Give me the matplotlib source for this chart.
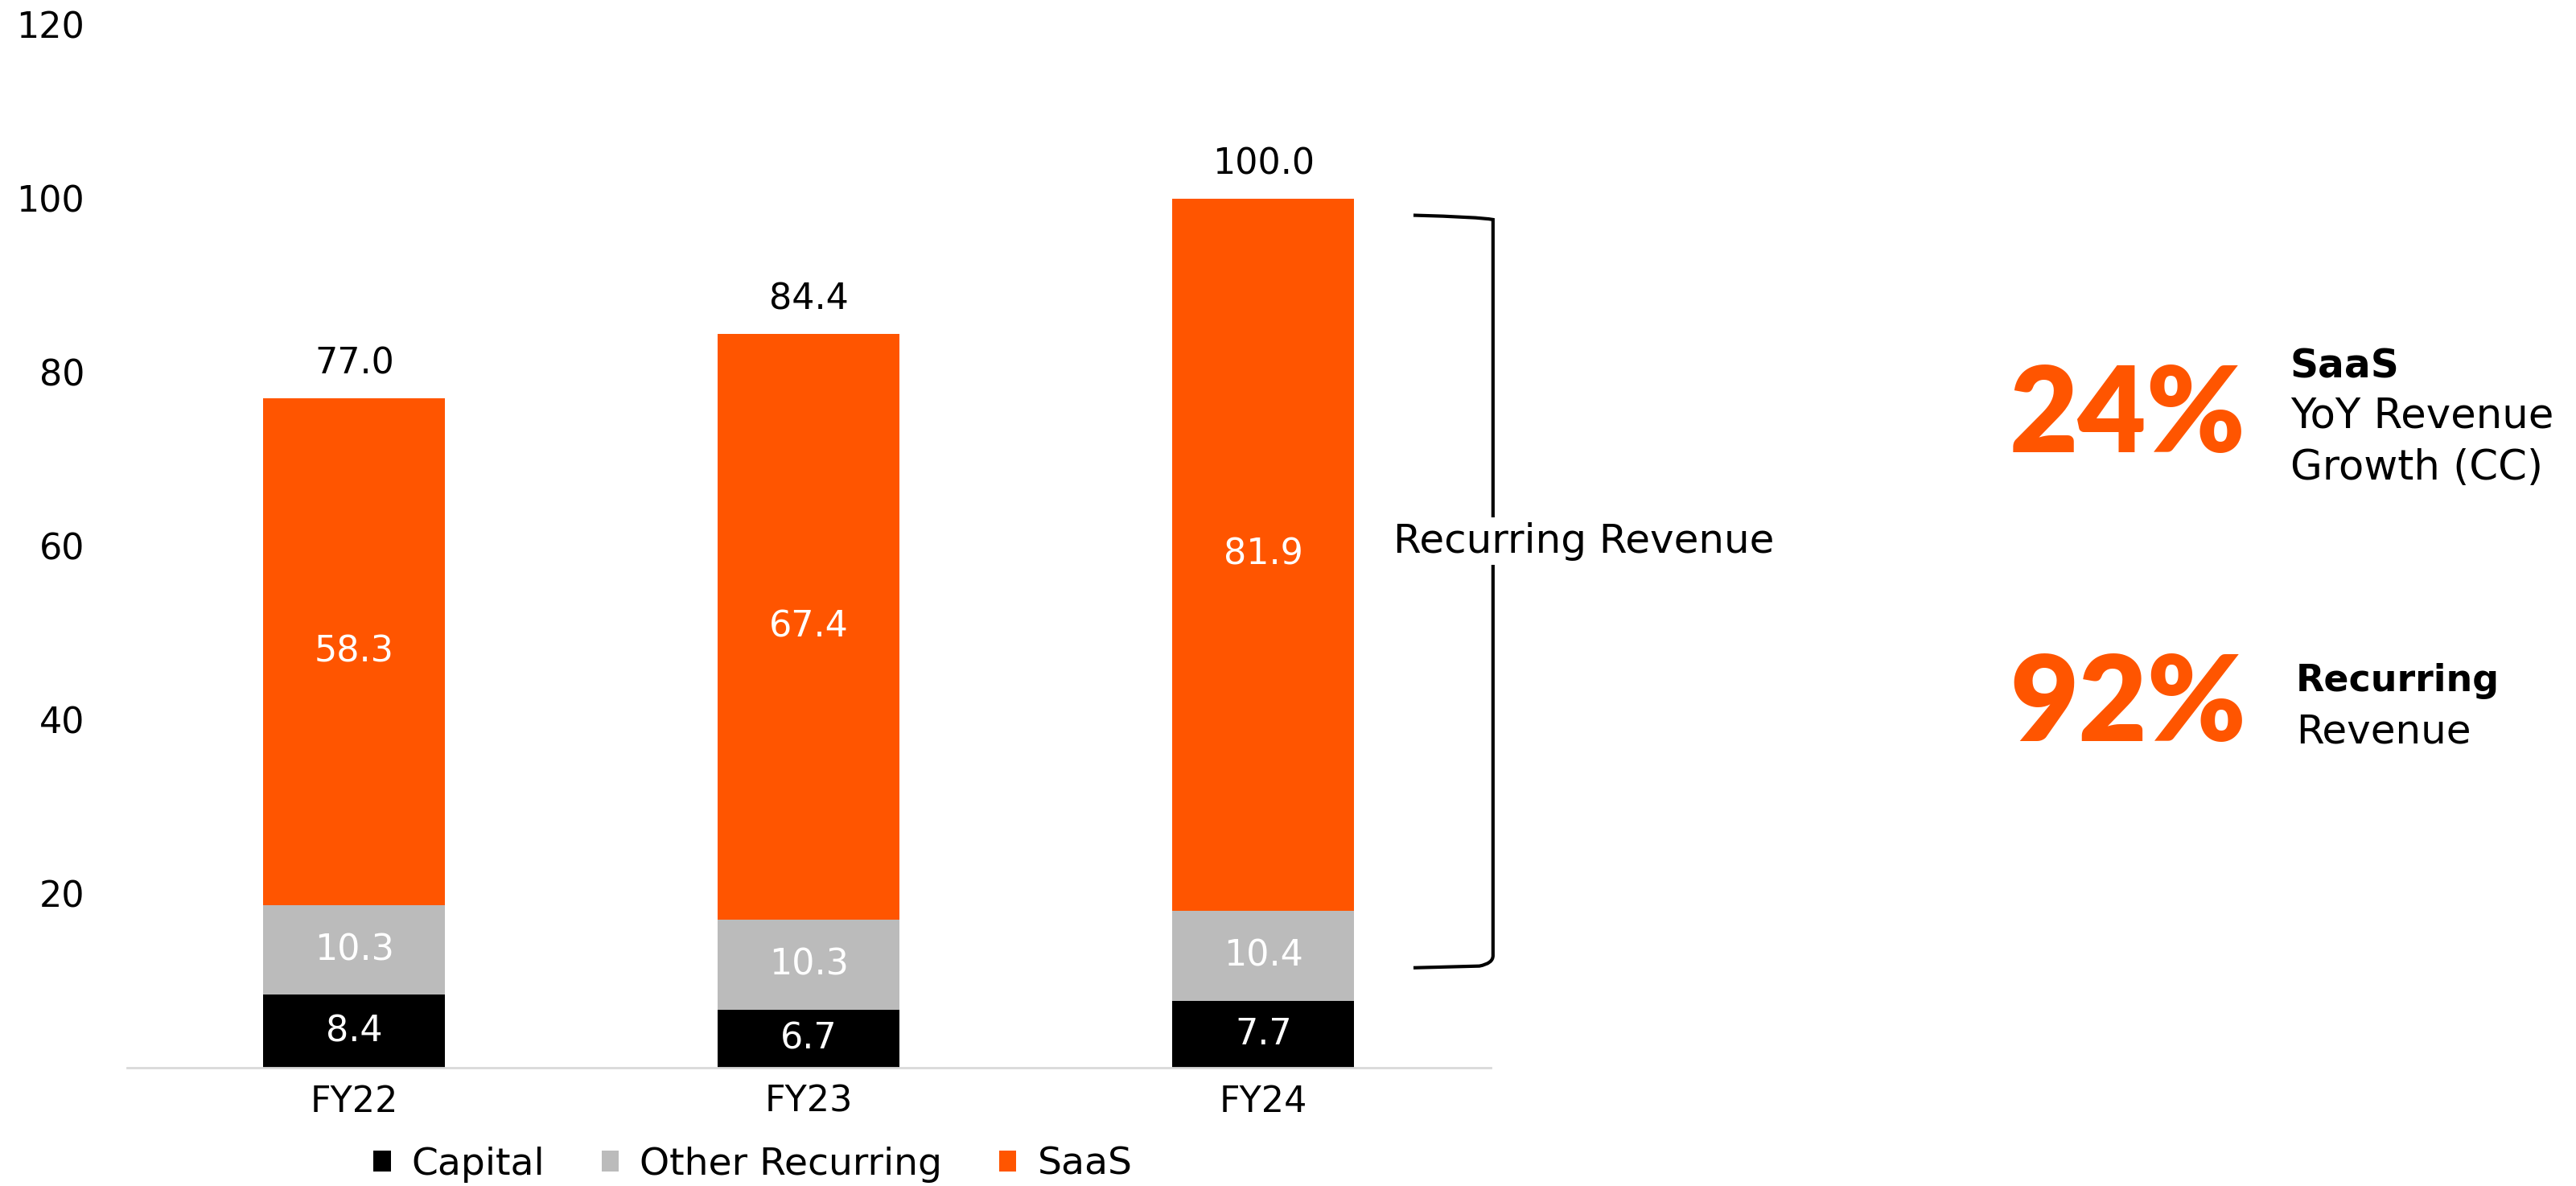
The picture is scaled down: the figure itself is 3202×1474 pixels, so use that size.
import numpy as np
import matplotlib
matplotlib.use("Agg")
import matplotlib.pyplot as plt
from matplotlib.path import Path
from matplotlib.patches import PathPatch

# revenue mix, FY22-FY24
years = ["FY22", "FY23", "FY24"]
capital = [8.4, 6.7, 7.7]
other_recurring = [10.3, 10.3, 10.4]
saas = [58.3, 67.4, 81.9]
totals = ["77.0", "84.4", "100.0"]

series_names = ["Capital", "Other Recurring", "SaaS"]
colors = ["#000000", "#BBBBBB", "#FF5500"]
label_colors = ["white", "white", "white"]

yticks = [20, 40, 60, 80, 100, 120]

orange = "#FF5500"
fs = 32

fig = plt.figure(figsize=(32.02, 14.74), dpi=100)
ax = fig.add_axes([0.04934, 0.09973, 0.52936, 0.87924])

x = np.arange(len(years))
bottom = np.zeros(len(years))
for vals, name, c, lc in zip([capital, other_recurring, saas], series_names, colors, label_colors):
    vals = np.array(vals)
    ax.bar(x, vals, width=0.4, bottom=bottom, color=c, label=name, edgecolor="none")
    for xi, b, v in zip(x, bottom, vals):
        ax.text(xi, b + v / 2, f"{v:.1f}", ha="center", va="center", color=lc, fontsize=fs)
    bottom = bottom + vals

# totals on top
for xi, top, t in zip(x, bottom, totals):
    ax.annotate(t, (xi, top), xytext=(0, 22), textcoords="offset points",
                ha="center", va="baseline", fontsize=fs, color="black")

ax.set_xlim(-0.5, 2.5)
ax.set_ylim(0, 120)
ax.set_xticks(x)
ax.set_xticklabels(years, fontsize=fs)
ax.set_yticks(yticks)
ax.set_yticklabels([str(v) for v in yticks], fontsize=fs)
ax.tick_params(axis="both", length=0)
ax.tick_params(axis="y", pad=38)
ax.tick_params(axis="x", pad=15)
for s in ["left", "right", "top"]:
    ax.spines[s].set_visible(False)
ax.spines["bottom"].set_color("#D9D9D9")
ax.spines["bottom"].set_linewidth(2)

# bracket for recurring revenue
bx0, bx1 = 2.33, 2.505
blo, bhi = 11.5, 98.1
verts = [(bx0, bhi), (bx1 - 0.03, bhi - 0.2), (bx1, bhi - 0.5), (bx1, bhi - 1.4),
         (bx1, blo + 1.4), (bx1, blo + 0.5), (bx1 - 0.03, blo + 0.2), (bx0, blo)]
codes = [Path.MOVETO, Path.CURVE3, Path.CURVE3, Path.LINETO,
         Path.LINETO, Path.CURVE3, Path.CURVE3, Path.LINETO]
ax.add_patch(PathPatch(Path(verts, codes), fill=False, lw=3, edgecolor="black",
                       clip_on=False, capstyle="butt"))
ax.text(2.704, 60.6, "Recurring Revenue", ha="center", va="center", fontsize=36,
        clip_on=False, zorder=5,
        bbox=dict(facecolor="white", edgecolor="none", pad=4))

# legend
ax.legend(loc="center", bbox_to_anchor=(0.2923, 0.0183), bbox_transform=fig.transFigure,
          ncol=3, frameon=False, fontsize=34, handlelength=0.45, handleheight=0.47,
          handletextpad=0.55, columnspacing=1.5)

# KPI call-outs
big = ["Lato", "DejaVu Sans"]
fig.text(0.7801, 0.6187, "24%", color=orange, fontsize=106, fontweight="heavy",
         family=big, ha="left", va="baseline")
fig.text(0.7801, 0.3752, "92%", color=orange, fontsize=106, fontweight="heavy",
         family=big, ha="left", va="baseline")
fig.text(0.8891, 0.6818, "SaaS", fontsize=35, fontweight="bold", va="baseline")
fig.text(0.8891, 0.6391, "YoY Revenue", fontsize=37, va="baseline")
fig.text(0.8891, 0.5957, "Growth (CC)", fontsize=37, va="baseline")
fig.text(0.8913, 0.4172, "Recurring", fontsize=33, fontweight="bold", va="baseline")
fig.text(0.8913, 0.3738, "Revenue", fontsize=36, va="baseline")

fig.savefig("out.png", dpi=100, facecolor="white")
